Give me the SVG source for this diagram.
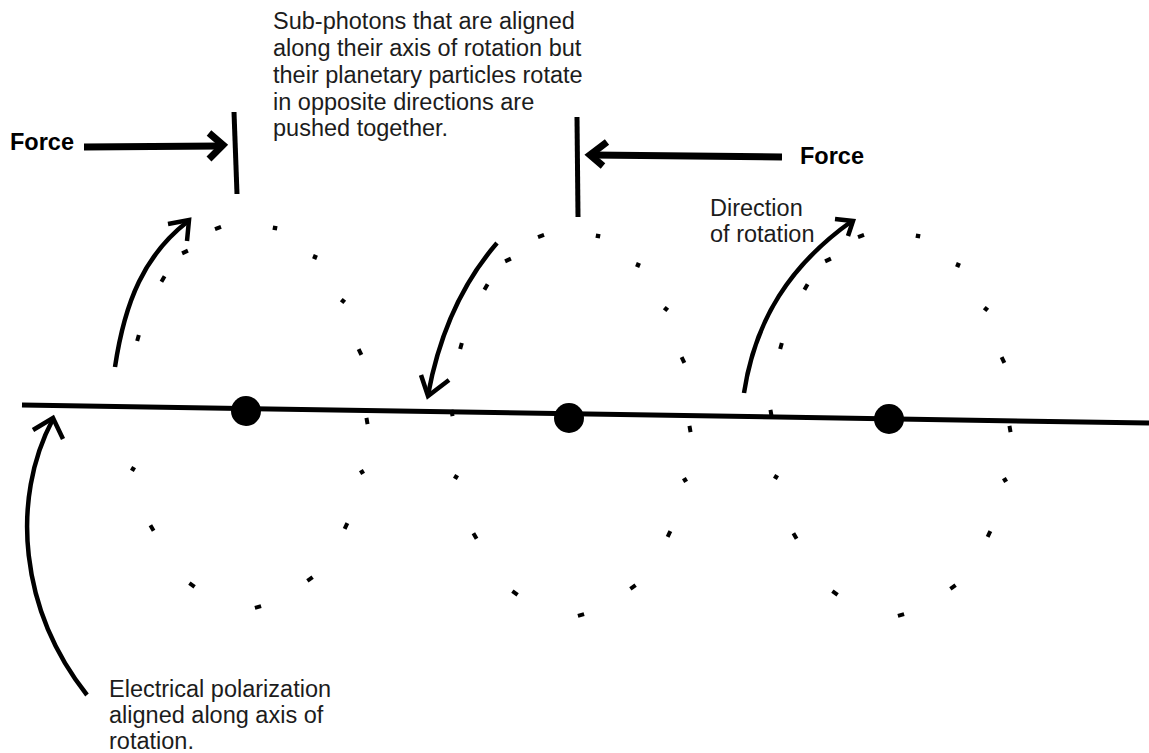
<svg xmlns="http://www.w3.org/2000/svg" xmlns:xlink="http://www.w3.org/1999/xlink" width="1149" height="753" viewBox="0 0 1149 753">
<style>
  .bg { fill: #ffffff; }
  .txt { font-family: "Liberation Sans", Arial, sans-serif; font-size: 23.5px; fill: #1c1c1c; }
  .bold { font-family: "Liberation Sans", Arial, sans-serif; font-size: 23.5px; font-weight: bold; fill: #000; }
  .thick { fill: none; stroke: #000; stroke-width: 7; stroke-linecap: butt; stroke-linejoin: miter; }
  .bar { fill: none; stroke: #000; stroke-width: 5; stroke-linecap: butt; }
  .curve { fill: none; stroke: #000; stroke-width: 4.5; stroke-linecap: butt; stroke-linejoin: miter; }
  .axis { fill: none; stroke: #000; stroke-width: 5; }
  .nucleus { fill: #000; }
  .dot { fill: #000; }
</style>
<defs>
  <rect id="d" x="-3.2" y="-2" width="6.4" height="4"/>
  <rect id="s" x="-2.2" y="-2.2" width="4.4" height="4.4"/>
  <g id="orbit">
    <use xlink:href="#d" transform="translate(218,228) rotate(-20)"/>
    <use xlink:href="#s" transform="translate(275,228) rotate(10)"/>
    <use xlink:href="#s" transform="translate(315,257) rotate(23)"/>
    <use xlink:href="#s" transform="translate(343,301) rotate(39)"/>
    <use xlink:href="#d" transform="translate(360,352) rotate(65)"/>
    <use xlink:href="#d" transform="translate(185,252) rotate(-25)"/>
    <use xlink:href="#d" transform="translate(163,279) rotate(-60)"/>
    <use xlink:href="#d" transform="translate(138,338) rotate(-75)"/>
    <use xlink:href="#d" transform="translate(367,421) rotate(80)"/>
    <use xlink:href="#s" transform="translate(133,469) rotate(30)"/>
    <use xlink:href="#d" transform="translate(152,528) rotate(60)"/>
    <use xlink:href="#d" transform="translate(192,585) rotate(35)"/>
    <use xlink:href="#d" transform="translate(258,607) rotate(-15)"/>
    <use xlink:href="#d" transform="translate(310,579) rotate(-35)"/>
    <use xlink:href="#d" transform="translate(346,526) rotate(-65)"/>
    <use xlink:href="#s" transform="translate(362,472) rotate(-30)"/>
  </g>
</defs>
<rect class="bg" x="0" y="0" width="1149" height="753"/>

<g id="label-top">
  <text class="txt" x="273" y="29">Sub-photons that are aligned</text>
  <text class="txt" x="273" y="56">along their axis of rotation but</text>
  <text class="txt" x="273" y="83">their planetary particles rotate</text>
  <text class="txt" x="273" y="110">in opposite directions are</text>
  <text class="txt" x="273" y="136">pushed together.</text>
</g>
<g id="label-force-left">
  <text class="bold" x="10" y="150">Force</text>
</g>
<g id="label-force-right">
  <text class="bold" x="800" y="164">Force</text>
</g>
<g id="label-direction">
  <text class="txt" x="710" y="216">Direction</text>
  <text class="txt" x="710" y="242">of rotation</text>
</g>
<g id="label-polarization">
  <text class="txt" x="109" y="697">Electrical polarization</text>
  <text class="txt" x="109" y="723">aligned along axis of</text>
  <text class="txt" x="109" y="749">rotation.</text>
</g>

<g id="orbit-1" class="dot">
  <use xlink:href="#orbit"/>
</g>
<g id="orbit-2" class="dot">
  <use xlink:href="#orbit" transform="translate(323,8)"/>
  <use xlink:href="#d" transform="translate(452,413) rotate(80)"/>
</g>
<g id="orbit-3" class="dot">
  <use xlink:href="#orbit" transform="translate(643,8)"/>
  <use xlink:href="#d" transform="translate(771,413) rotate(80)"/>
</g>

<g id="axis">
  <line class="axis" x1="22" y1="405" x2="1149" y2="423"/>
</g>
<g id="nucleus-1"><circle class="nucleus" cx="246" cy="411" r="15"/></g>
<g id="nucleus-2"><circle class="nucleus" cx="569" cy="418" r="15"/></g>
<g id="nucleus-3"><circle class="nucleus" cx="889" cy="419" r="15"/></g>

<g id="connectors">
  <!-- left force -->
  <line class="thick" x1="84" y1="147" x2="220" y2="146"/>
  <polyline class="thick" points="209,133 223,145 209,159"/>
  <line class="bar" x1="234" y1="112" x2="237" y2="194"/>
  <!-- right force -->
  <line class="thick" x1="592" y1="155" x2="782" y2="157"/>
  <polyline class="thick" points="607,142 590,155 603,166"/>
  <line class="bar" x1="577" y1="117" x2="578" y2="217"/>
  <!-- rotation arrows -->
  <path class="curve" d="M115,367 C125,300 145,255 187,222"/>
  <polyline class="curve" points="168,224 189,220 187,241"/>
  <path class="curve" d="M497,243 C465,280 440,330 428,395"/>
  <polyline class="curve" points="421,375 428,396 449,380"/>
  <path class="curve" d="M744,393 C755,320 790,265 852,221"/>
  <polyline class="curve" points="835,219 853,221 848,236"/>
  <!-- polarization arrow -->
  <path class="curve" d="M87,695 C20,610 10,500 53,419"/>
  <polyline class="curve" points="33,430 53,418 63,439"/>
</g>
</svg>
